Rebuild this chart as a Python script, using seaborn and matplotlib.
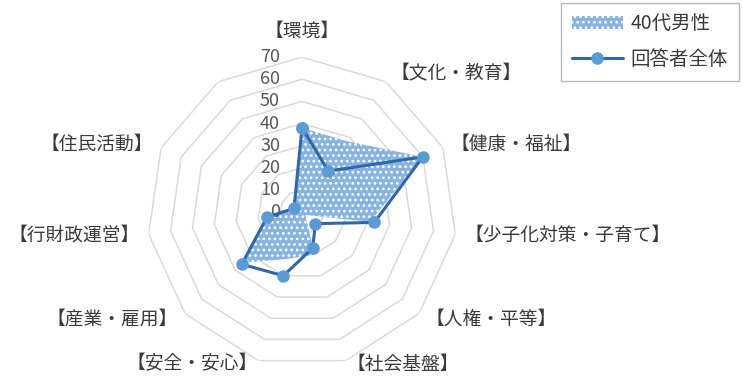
import numpy as np
import matplotlib
matplotlib.use("Agg")
import matplotlib.pyplot as plt
import matplotlib.transforms as mtransforms
import seaborn as sns

# categories (the last axis of the chart has no label)
categories = ['【環境】', '【文化・教育】', '【健康・福祉】', '【少子化対策・子育て】',
              '【人権・平等】', '【社会基盤】', '【安全・安心】', '【産業・雇用】',
              '【行財政運営】', '【住民活動】', '']
male_40s = [38, 38, 60, 31, 2, 20, 22, 35, 16, 4, None]
all_resp = [38, 22, 60, 33, 8, 17, 30, 36, 16, 4, None]
r_ticks = [0, 10, 20, 30, 40, 50, 60, 70]

sns.set_theme(style="white")
plt.rcParams['font.family'] = ['Noto Sans CJK JP', 'DejaVu Sans']
plt.rcParams['hatch.linewidth'] = 1.2

n = len(categories)
angles = np.linspace(0, 2 * np.pi, n, endpoint=False)

fig = plt.figure(figsize=(7.43, 3.80), dpi=100)
ax = fig.add_axes([0.198, 0.034, 0.417, 0.816], projection='polar')
ax.set_theta_zero_location('N')
ax.set_theta_direction(-1)
ax.set_ylim(0, 70)
ax.grid(False)
ax.set_xticks([])
ax.set_yticks([])
ax.spines['polar'].set_visible(False)
ax.patch.set_alpha(0)

# polygon gridlines
closed = np.append(angles, angles[0])
for r in r_ticks[1:]:
    ax.plot(closed, [r] * len(closed), color='#d9d9d9', lw=1.1, zorder=0)

# radial tick labels, left of the top axis
shift = mtransforms.offset_copy(ax.transData, fig=fig, x=-22, y=0, units='dots')
for r in r_ticks:
    ax.text(0, r, str(r), transform=shift, ha='right', va='center',
            fontsize=13, color='#595959')

# category labels
for ang, lab in zip(angles, categories):
    s, c = np.sin(ang), np.cos(ang)
    if abs(s) < 0.1:
        ha, va, rr = 'center', 'bottom', 77
    else:
        ha = 'left' if s > 0 else 'right'
        va = 'center'
        rr = 74 if c > -0.9 else 71.5
    ax.text(ang, rr, lab, ha=ha, va=va, fontsize=13.5, color='#3a3a3a')


def valid(vals):
    th = [a for a, v in zip(angles, vals) if v is not None]
    vv = [v for v in vals if v is not None]
    return th + th[:1], vv + vv[:1]


th, vv = valid(male_40s)
ax.fill(th, vv, facecolor='#86b3e0', edgecolor='white', hatch='...', lw=0,
        label='40代男性', zorder=2)

th, vv = valid(all_resp)
ax.plot(th, vv, color='#2f67a8', lw=2.2, marker='o', ms=8,
        mfc='#5b9bd5', mec='#5b9bd5', label='回答者全体', zorder=3)

leg = fig.legend(loc='upper right', bbox_to_anchor=(0.994, 0.993), borderaxespad=0,
                 fontsize=14, frameon=True, fancybox=False, handlelength=2.6,
                 labelspacing=0.75, borderpad=0.55, handletextpad=0.4)
leg.get_frame().set_edgecolor('#a6a6a6')
leg.get_frame().set_linewidth(1.0)
for t in leg.get_texts():
    t.set_color('#3a3a3a')

fig.savefig('out.png', dpi=100)
